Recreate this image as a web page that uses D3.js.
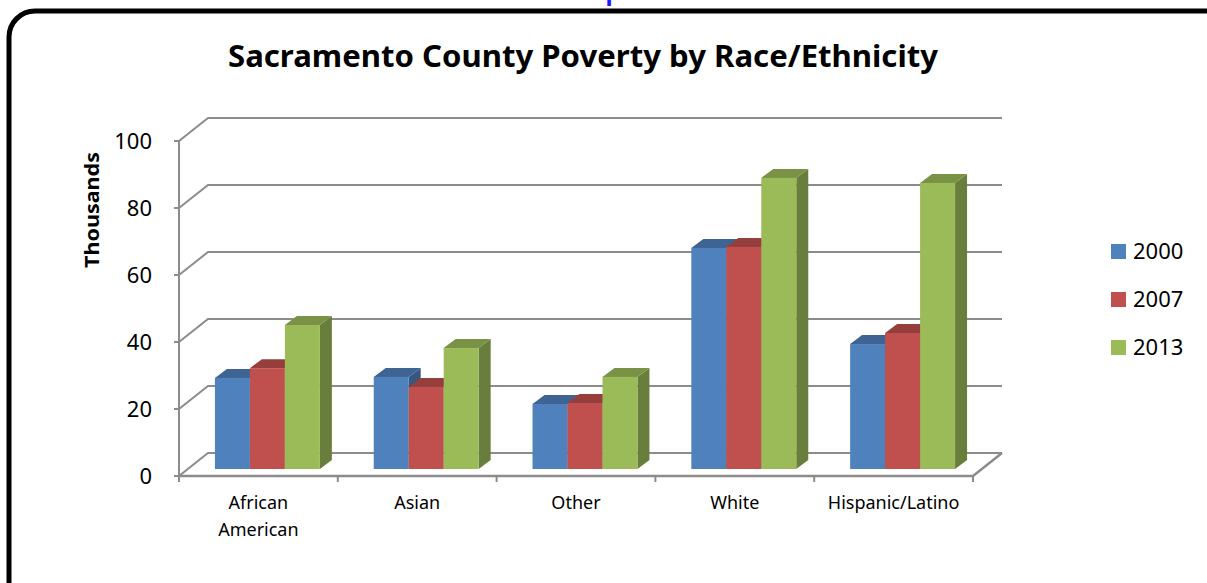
<!DOCTYPE html>
<html>
<head>
<meta charset="utf-8">
<script src="https://cdn.jsdelivr.net/npm/d3@7"></script>
<style>
  body { margin: 0; background: #fff; }
  text { font-family: "Noto Sans", "Open Sans", sans-serif; }
</style>
</head>
<body>
<script>
// chart data
const categories = ["African American", "Asian", "Other", "White", "Hispanic/Latino"];
const series = ["2000", "2007", "2013"];
const values2000 = [27.2, 27.5, 19.4, 66.0, 37.3];
const values2007 = [30.1, 24.5, 19.7, 66.3, 40.6];
const values2013 = [43.0, 36.1, 27.5, 86.9, 85.4];
const yTicks = [0, 20, 40, 60, 80, 100];
const colours = ["#4f81bd", "#c0504d", "#9bbb59"];

const W = 1207, H = 583;
const svg = d3.select("body").append("svg").attr("width", W).attr("height", H);

// frame and the cut-off heading above it (only its bottom shows)
svg.append("text").attr("x", 600).attr("y", 0).attr("text-anchor", "middle")
    .attr("font-size", 24).attr("font-weight", "bold").attr("fill", "#1a1aff").text("Graph");
svg.append("rect").attr("x", 9).attr("y", 11).attr("width", W + 30).attr("height", H + 30)
    .attr("rx", 26).attr("fill", "none").attr("stroke", "#000").attr("stroke-width", 5);

// 3d geometry: front plane, and depth of the wall
const left = 179, right = 973;
const depthX = 29, depthY = -23;
const barOffX = 9, barOffY = -7;     // bars sit a bit back from the front
const barDepthX = 12, barDepthY = -9;

const x0 = d3.scaleBand().domain(categories).range([left, right]);
const x1 = d3.scaleBand().domain(series).range([0, x0.bandwidth()]).paddingOuter(0.77);
const yFront = d3.scaleLinear().domain([0, 100]).range([476, 141]);
const yBar = d3.scaleLinear().domain([0, 100]).range([476 + barOffY, 141 + barOffY]);

const grid = "#8c8c8c";
const g = svg.append("g");

// back wall gridlines + left wall diagonals
yTicks.forEach(t => {
    const yf = yFront(t);
    g.append("path")
        .attr("d", `M${left},${yf}L${left + depthX},${yf + depthY}L${right + depthX},${yf + depthY}`)
        .attr("fill", "none").attr("stroke", grid).attr("stroke-width", 2);
    g.append("line").attr("x1", left - 5).attr("x2", left).attr("y1", yf).attr("y2", yf)
        .attr("stroke", grid).attr("stroke-width", 2);
});

// floor front edge and right side
g.append("path")
    .attr("d", `M${left},${yFront(0)}L${right},${yFront(0)}L${right + depthX},${yFront(0) + depthY}`)
    .attr("fill", "none").attr("stroke", grid).attr("stroke-width", 2.5);
// vertical axis
g.append("line").attr("x1", left).attr("x2", left).attr("y1", yFront(100)).attr("y2", yFront(0))
    .attr("stroke", grid).attr("stroke-width", 2);
// category ticks
d3.range(categories.length + 1).forEach(i => {
    const x = left + i * x0.step();
    g.append("line").attr("x1", x).attr("x2", x).attr("y1", yFront(0)).attr("y2", yFront(0) + 6)
        .attr("stroke", grid).attr("stroke-width", 2);
});

// y tick labels
svg.append("g").selectAll("text").data(yTicks).join("text")
    .attr("x", 152).attr("y", d => yFront(d) + 8).attr("text-anchor", "end")
    .attr("font-size", 22).attr("fill", "#000").text(d => d);

// bars, drawn left to right so each front hides the previous side
const allValues = [values2000, values2007, values2013];
const bars = [];
categories.forEach((c, ci) => {
    series.forEach((s, si) => bars.push({ c, s, si, v: allValues[si][ci] }));
});
const barsG = svg.append("g");
bars.forEach(d => {
    const bx = x0(d.c) + x1(d.s) + barOffX;
    const bw = x1.bandwidth();
    const yb = yBar(0), yt = yBar(d.v);
    const base = d3.color(colours[d.si]);
    const bar = barsG.append("g");
    bar.append("path")
        .attr("d", `M${bx + bw},${yb}L${bx + bw + barDepthX},${yb + barDepthY}L${bx + bw + barDepthX},${yt + barDepthY}L${bx + bw},${yt}Z`)
        .attr("fill", base.darker(1.1));
    bar.append("path")
        .attr("d", `M${bx},${yt}L${bx + barDepthX},${yt + barDepthY}L${bx + bw + barDepthX},${yt + barDepthY}L${bx + bw},${yt}Z`)
        .attr("fill", base.darker(0.7));
    bar.append("rect").attr("x", bx).attr("y", yt).attr("width", bw).attr("height", yb - yt)
        .attr("fill", base);
});

// category labels
const catG = svg.append("g");
categories.forEach(c => {
    const words = c === "African American" ? ["African", "American"] : [c];
    const t = catG.append("text").attr("text-anchor", "middle")
        .attr("font-size", 18).attr("fill", "#000");
    words.forEach((w, i) => {
        t.append("tspan").attr("x", x0(c) + x0.bandwidth() / 2).attr("y", 509 + i * 27).text(w);
    });
});

// title
svg.append("text").attr("x", 583).attr("y", 67).attr("text-anchor", "middle")
    .attr("font-size", 30).attr("font-weight", "bold")
    .attr("textLength", 710).attr("lengthAdjust", "spacingAndGlyphs")
    .text("Sacramento County Poverty by Race/Ethnicity");

// axis title
svg.append("text").attr("transform", "translate(99,210) rotate(-90)").attr("text-anchor", "middle")
    .attr("font-size", 19).attr("font-weight", "bold")
    .attr("textLength", 116).attr("lengthAdjust", "spacingAndGlyphs")
    .text("Thousands");

// legend
const legend = svg.append("g").selectAll("g").data(series).join("g")
    .attr("transform", (d, i) => `translate(1111,${244 + i * 48})`);
legend.append("rect").attr("width", 15).attr("height", 15).attr("fill", (d, i) => colours[i]);
legend.append("text").attr("x", 22).attr("y", 15).attr("font-size", 22).text(d => d);
</script>
</body>
</html>
